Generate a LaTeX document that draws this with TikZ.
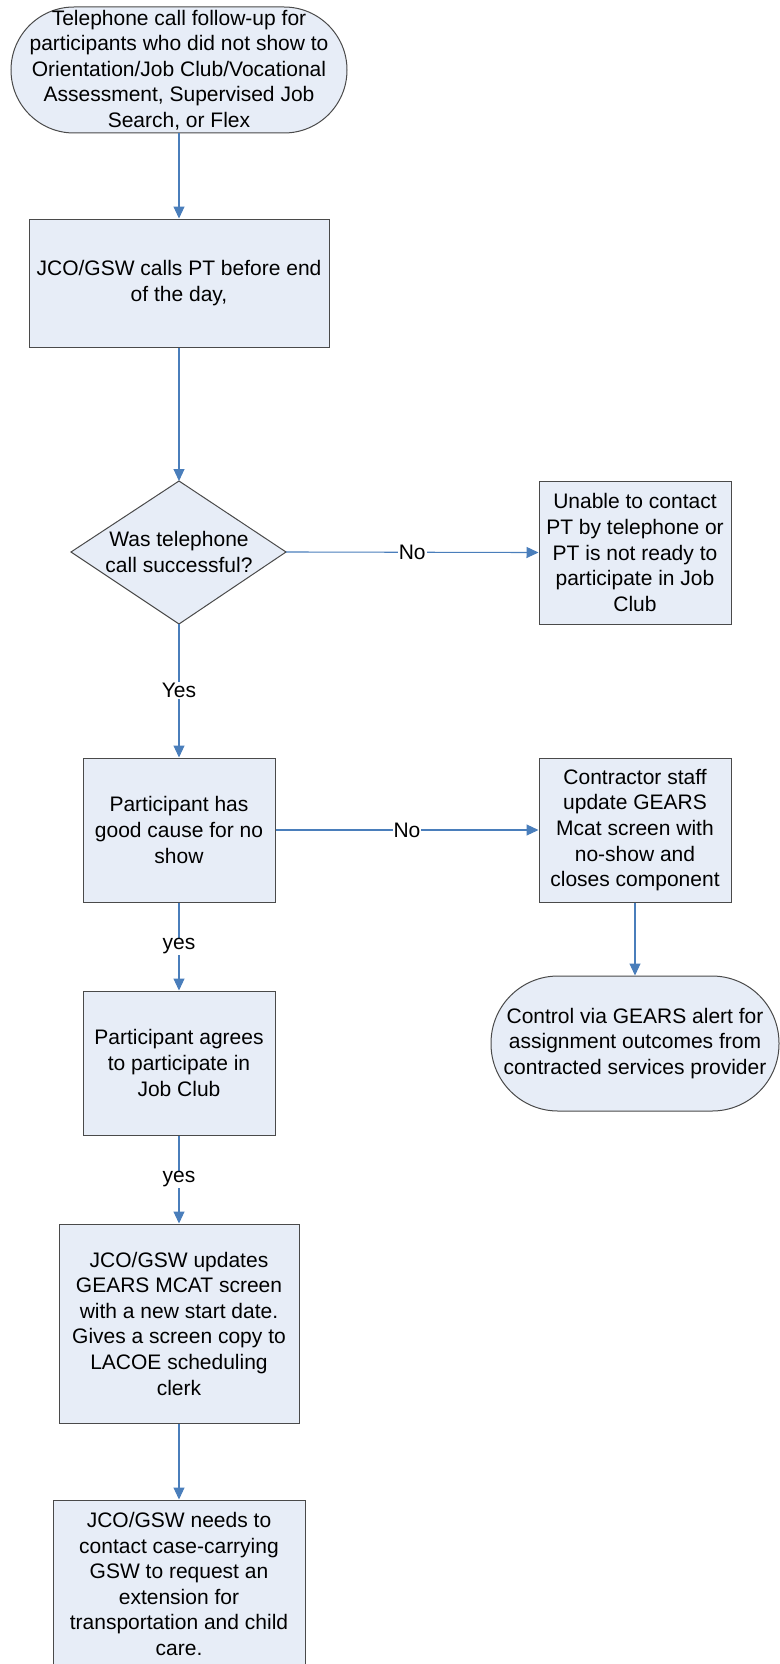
\documentclass[tikz,border=0pt]{standalone}
\usepackage{fontspec}
\setmainfont{Liberation Sans}
\usetikzlibrary{arrows.meta}
\definecolor{boxfill}{HTML}{E7EDF7}
\definecolor{boxline}{HTML}{4A4A4A}
\definecolor{flow}{HTML}{4A7EBB}
\tikzset{
  base/.style={draw=boxline, line width=1pt, fill=boxfill, inner sep=0pt, align=center,
    font=\fontsize{21}{25.6}\selectfont},
  procbox/.style={base, rectangle},
  terminal/.style={base, rectangle, rounded corners=#1},
  decision/.style={base},
  flowline/.style={draw=flow, line width=1.1pt, -{Triangle[length=12pt,width=11pt]}},
  flowlabel/.style={fill=white, inner sep=1pt, font=\fontsize{21}{25.6}\selectfont}
}
\begin{document}
\begin{tikzpicture}[x=1pt, y=-1pt]
  \useasboundingbox (0,0) rectangle (779,1664);

  % start terminal
  \node[terminal=63pt, minimum width=336pt, minimum height=126pt] (start) at (179,70) {};
  \node[align=center, inner sep=0pt, font=\fontsize{21}{25.6}\selectfont] (starttext) at (179,70)
    {Telephone call follow-up for\\participants who did not show to\\Orientation/Job Club/Vocational\\Assessment, Supervised Job\\Search, or Flex};

  % process steps on the main column
  \node[procbox, minimum width=300pt, minimum height=128pt] (call) at (179,283)
    {JCO/GSW calls PT before end\\of the day,};

  % decision diamond
  \path[base] (71,552) -- (179,481) -- (286,552) -- (179,624) -- cycle;
  \coordinate (decN) at (179,481);
  \coordinate (decE) at (286,552);
  \coordinate (decS) at (179,624);
  \node[align=center, inner sep=0pt, font=\fontsize{21}{25.6}\selectfont] (dec) at (179,552)
    {Was telephone\\call successful?};

  \node[procbox, minimum width=192pt, minimum height=143pt] (unable) at (635,552.5)
    {Unable to contact\\PT by telephone or\\PT is not ready to\\participate in Job\\Club};

  \node[procbox, minimum width=192pt, minimum height=144pt] (cause) at (179,830)
    {Participant has\\good cause for no\\show};

  \node[procbox, minimum width=192pt, minimum height=144pt] (contractor) at (635,830)
    {Contractor staff\\update GEARS\\Mcat screen with\\no-show and\\closes component};

  \node[terminal=67pt, minimum width=288pt, minimum height=135pt] (control) at (635,1043.5)
    {Control via GEARS alert for\\assignment outcomes from\\contracted services provider};

  \node[procbox, minimum width=192pt, minimum height=144pt] (agrees) at (179,1063)
    {Participant agrees\\to participate in\\Job Club};

  \node[procbox, minimum width=240pt, minimum height=199pt] (updates) at (179,1323.5)
    {JCO/GSW updates\\GEARS MCAT screen\\with a new start date.\\Gives a screen copy to\\LACOE scheduling\\clerk};

  \node[procbox, minimum width=252pt, minimum height=168pt] (extension) at (179,1584)
    {JCO/GSW needs to\\contact case-carrying\\GSW to request an\\extension for\\transportation and child\\care.};

  % connectors
  \draw[flowline] (start.south) -- (call.north);
  \draw[flowline] (call.south) -- (decN);
  \draw[flowline] (decE) -- node[flowlabel] {No} (unable.west);
  \draw[flowline] (decS) -- node[flowlabel] {Yes} (cause.north);
  \draw[flowline] (cause.east) -- node[flowlabel] {No} (contractor.west);
  \draw[flowline] (contractor.south) -- (control.north);
  \draw[flowline] (cause.south) -- node[flowlabel] {yes} (agrees.north);
  \draw[flowline] (agrees.south) -- node[flowlabel] {yes} (updates.north);
  \draw[flowline] (updates.south) -- (extension.north);
\end{tikzpicture}
\end{document}
